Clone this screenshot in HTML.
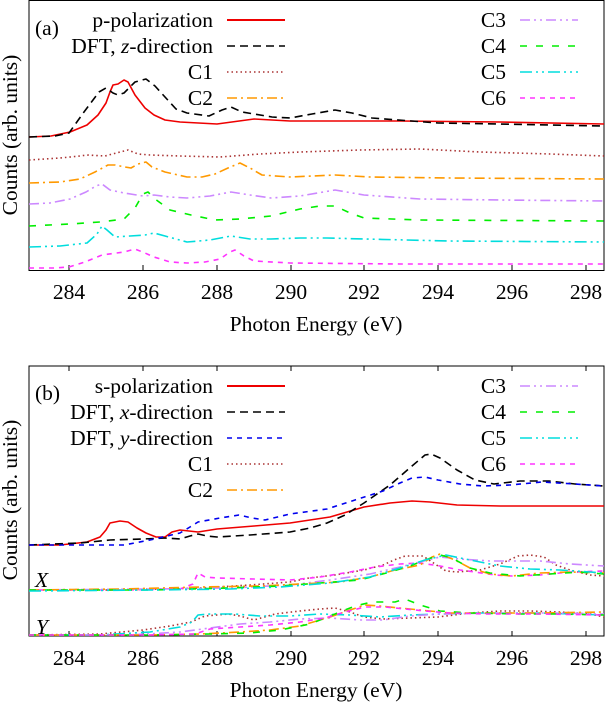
<!DOCTYPE html>
<html><head><style>body{margin:0;background:#fff}svg{display:block}text{font-family:"Liberation Serif",serif;font-size:21.5px;fill:#000}polyline{fill:none;stroke-width:1.6;stroke-linejoin:round}</style></head><body>
<svg width="605" height="703" viewBox="0 0 605 703" xmlns="http://www.w3.org/2000/svg">
<g fill="none" stroke-width="1.6">
<rect x="29" y="0.5" width="575" height="270" stroke="#000" stroke-width="1"/>
<rect x="29" y="366" width="575" height="270" stroke="#000" stroke-width="1"/>
<g stroke="#000" stroke-width="1">
<path d="M69 270v-5M143 270v-5M217 270v-5M291 270v-5M364 270v-5M438 270v-5M512 270v-5M586 270v-5"/>
<path d="M69 366v5M143 366v5M217 366v5M291 366v5M364 366v5M438 366v5M512 366v5M586 366v5"/>
<path d="M69 636v-5M143 636v-5M217 636v-5M291 636v-5M364 636v-5M438 636v-5M512 636v-5M586 636v-5"/>
</g>
<path stroke="#e00" stroke-width="2" d="M227 20h58"/>
<path stroke="#000" stroke-dasharray="8,5" d="M227 46h58"/>
<path stroke="#a33" stroke-dasharray="1.5,3" d="M227 72h58"/>
<path stroke="#f90" stroke-dasharray="10,4,2,4" d="M227 98h58"/>
<path stroke="#c8f" stroke-dasharray="10,4,2,4,2,4" d="M520 20h58"/>
<path stroke="#0e0" stroke-dasharray="7,9" d="M520 46h58"/>
<path stroke="#0dd" stroke-dasharray="12,4,2,4,2,4" d="M520 72h58"/>
<path stroke="#f3f" stroke-dasharray="5,5" d="M520 98h58"/>
<path stroke="#e00" stroke-width="2" d="M227 386h58"/>
<path stroke="#000" stroke-dasharray="8,5" d="M227 412h58"/>
<path stroke="#00e" stroke-dasharray="5,5" d="M227 438h58"/>
<path stroke="#a33" stroke-dasharray="1.5,3" d="M227 464h58"/>
<path stroke="#f90" stroke-dasharray="10,4,2,4" d="M227 490h58"/>
<path stroke="#c8f" stroke-dasharray="10,4,2,4,2,4" d="M520 386h58"/>
<path stroke="#0e0" stroke-dasharray="7,9" d="M520 412h58"/>
<path stroke="#0dd" stroke-dasharray="12,4,2,4,2,4" d="M520 438h58"/>
<path stroke="#f3f" stroke-dasharray="5,5" d="M520 464h58"/>
</g>
<polyline stroke="#e00" stroke-width="2" points="29,137 51,136 70,132 87,125 98,115 106,103 110,92 113,85 118,84 124,80 128,82 135,95 145,108 154,115 165,120 180,122 217,124 254,119 290,121 400,121 500,122 604,124"/>
<polyline stroke="#000" stroke-dasharray="8,5" points="29,137 55,136 69,133 84,112 99,92 106,88 113,93 118,95 124,93 135,82 146,79 155,86 165,97 176,109 187,113 209,116 222,110 231,107 242,112 254,114 272,117 290,118 312,114 335,110 352,113 372,118 438,123 500,124 604,126"/>
<polyline stroke="#a33" stroke-dasharray="1.5,3" points="29,160 60,158 80,156 87,155 105,156 120,152 128,150 138,154 150,155 180,156 220,157 260,154 300,152 360,150 420,149 480,152 550,154 604,156"/>
<polyline stroke="#f90" stroke-dasharray="10,4,2,4" points="29,183 60,182 80,179 95,172 108,165 115,165 125,167 131,168 138,164 146,162 152,167 165,172 187,177 202,177 215,174 228,168 240,163 250,168 262,175 290,177 335,175 370,177 450,178 604,179"/>
<polyline stroke="#c8f" stroke-dasharray="10,4,2,4,2,4" points="29,204 50,203 70,199 86,192 96,186 102,184 110,190 124,193 143,196 154,195 170,197 187,198 210,196 231,192 250,195 271,198 300,196 335,190 364,195 420,199 500,200 604,201"/>
<polyline stroke="#0e0" stroke-dasharray="7,9" points="29,226 70,224 100,222 124,219 135,208 143,194 148,192 155,199 170,210 191,215 215,220 240,219 271,216 300,209 320,206 335,206 350,213 364,218 420,220 604,221"/>
<polyline stroke="#0dd" stroke-dasharray="12,4,2,4,2,4" points="29,247 60,246 87,243 97,234 102,226 107,230 115,237 130,236 145,235 154,233 165,236 187,242 210,240 231,236 250,239 271,239 300,238 327,238 364,239 450,241 604,242"/>
<polyline stroke="#f3f" stroke-dasharray="5,5" points="29,268 55,268 69,267 85,262 102,255 124,252 135,249 145,253 154,257 170,262 187,263 205,262 220,259 230,252 235,250 244,256 254,261 290,263 400,264 604,264"/>
<polyline stroke="#e00" stroke-width="2" points="29,545 60,545 87,542 100,537 106,530 110,523 120,521 128,522 137,528 146,533 156,537 165,537 172,532 180,530 198,532 217,529 254,526 290,523 330,517 364,507 390,503 412,501 430,502 457,505 500,506 604,506"/>
<polyline stroke="#000" stroke-dasharray="8,5" points="29,545 80,543 110,540 143,539 165,538 180,539 190,536 198,534 207,536 217,537 250,535 290,532 310,528 327,523 345,515 364,503 390,485 412,466 425,455 431,454 440,458 457,470 475,480 494,484 520,481 549,481 575,484 604,486"/>
<polyline stroke="#00e" stroke-dasharray="5,5" points="29,545 80,545 124,545 150,540 180,533 190,527 198,522 220,518 239,515 252,518 265,520 290,514 327,509 355,500 383,491 400,483 412,478 425,477 438,480 460,484 483,486 510,485 542,482 575,484 604,486"/>
<polyline stroke="#a33" stroke-dasharray="1.5,3" points="29,590 120,590 200,588 250,585 290,582 309,578 335,575 364,570 383,565 394,560 405,556 423,556 432,562 438,566 446,571 457,572 480,570 500,564 518,556 530,555 544,557 556,565 570,570 590,575 604,576"/>
<polyline stroke="#f3f" stroke-dasharray="5,5" points="29,590 120,590 180,589 193,584 198,573 205,577 217,578 254,579 290,580 320,577 350,572 375,567 400,564 420,563 440,566 460,570 475,572 495,575 512,576 540,575 570,572 604,571"/>
<polyline stroke="#c8f" stroke-dasharray="10,4,2,4,2,4" points="29,590 150,589 230,588 290,585 330,580 370,574 400,567 420,562 440,557 460,559 490,561 520,561 540,561 570,564 604,566"/>
<polyline stroke="#f90" stroke-dasharray="10,4,2,4" points="29,590 120,589 200,587 260,586 300,584 340,582 370,577 395,570 420,565 432,557 440,554 455,560 470,568 490,574 512,576 540,573 570,572 604,573"/>
<polyline stroke="#0e0" stroke-dasharray="7,9" points="29,590 150,590 230,588 280,586 320,583 360,580 390,572 410,566 425,560 440,555 452,558 470,568 490,573 520,576 550,574 580,572 604,574"/>
<polyline stroke="#0dd" stroke-dasharray="12,4,2,4,2,4" points="29,591 150,590 230,589 280,587 330,583 370,577 400,568 425,560 446,555 470,560 500,566 530,569 560,570 590,572 604,573"/>
<polyline stroke="#a33" stroke-dasharray="1.5,3" points="29,635 100,634 143,630 170,626 191,622 205,616 228,614 240,616 254,620 275,614 300,611 320,609 335,608 350,612 364,617 383,619 410,618 438,617 470,613 500,611 530,611 560,612 590,614 604,617"/>
<polyline stroke="#0dd" stroke-dasharray="12,4,2,4,2,4" points="29,635 100,635 150,632 180,627 192,622 198,615 210,614 235,614 260,616 290,616 320,614 350,615 380,617 410,615 440,614 480,613 540,613 604,615"/>
<polyline stroke="#c8f" stroke-dasharray="10,4,2,4,2,4" points="29,635 130,635 180,632 210,628 240,624 270,622 300,619 330,618 360,620 383,620 410,616 440,614 500,613 560,613 604,614"/>
<polyline stroke="#f90" stroke-dasharray="10,4,2,4" points="29,635 150,635 200,634 240,632 270,630 300,626 330,617 350,610 365,605 380,606 400,608 420,610 450,613 490,613 540,613 604,612"/>
<polyline stroke="#0e0" stroke-dasharray="7,9" points="29,635 150,635 210,634 250,633 280,630 310,624 335,614 355,606 372,602 395,602 405,599 420,605 440,611 470,613 520,614 560,614 604,615"/>
<polyline stroke="#f3f" stroke-dasharray="5,5" points="29,635 150,635 195,634 210,629 240,627 270,625 300,622 325,618 345,612 365,607 385,607 405,609 425,611 450,613 490,614 540,614 604,615"/>
<g text-anchor="end">
<text x="213" y="27">p-polarization</text>
<text x="213" y="53">DFT, <tspan font-style="italic">z</tspan>-direction</text>
<text x="213" y="79">C1</text>
<text x="213" y="105">C2</text>
<text x="506" y="27">C3</text><text x="506" y="53">C4</text><text x="506" y="79">C5</text><text x="506" y="105">C6</text>
<text x="213" y="393">s-polarization</text>
<text x="213" y="419">DFT, <tspan font-style="italic">x</tspan>-direction</text>
<text x="213" y="445">DFT, <tspan font-style="italic">y</tspan>-direction</text>
<text x="213" y="471">C1</text>
<text x="213" y="497">C2</text>
<text x="506" y="393">C3</text><text x="506" y="419">C4</text><text x="506" y="445">C5</text><text x="506" y="471">C6</text>
</g>
<text x="35" y="35">(a)</text>
<text x="35" y="400">(b)</text>
<text x="35" y="587" font-style="italic">X</text>
<text x="36" y="634" font-style="italic">Y</text>
<g text-anchor="middle">
<text x="69" y="299">284</text><text x="143" y="299">286</text><text x="217" y="299">288</text><text x="291" y="299">290</text><text x="364" y="299">292</text><text x="438" y="299">294</text><text x="512" y="299">296</text><text x="586" y="299">298</text>
<text x="69" y="665">284</text><text x="143" y="665">286</text><text x="217" y="665">288</text><text x="291" y="665">290</text><text x="364" y="665">292</text><text x="438" y="665">294</text><text x="512" y="665">296</text><text x="586" y="665">298</text>
<text x="316" y="331">Photon Energy (eV)</text>
<text x="316" y="697">Photon Energy (eV)</text>
<text transform="translate(17,135) rotate(-90)">Counts (arb. units)</text>
<text transform="translate(17,500) rotate(-90)">Counts (arb. units)</text>
</g>
</svg>
</body></html>
